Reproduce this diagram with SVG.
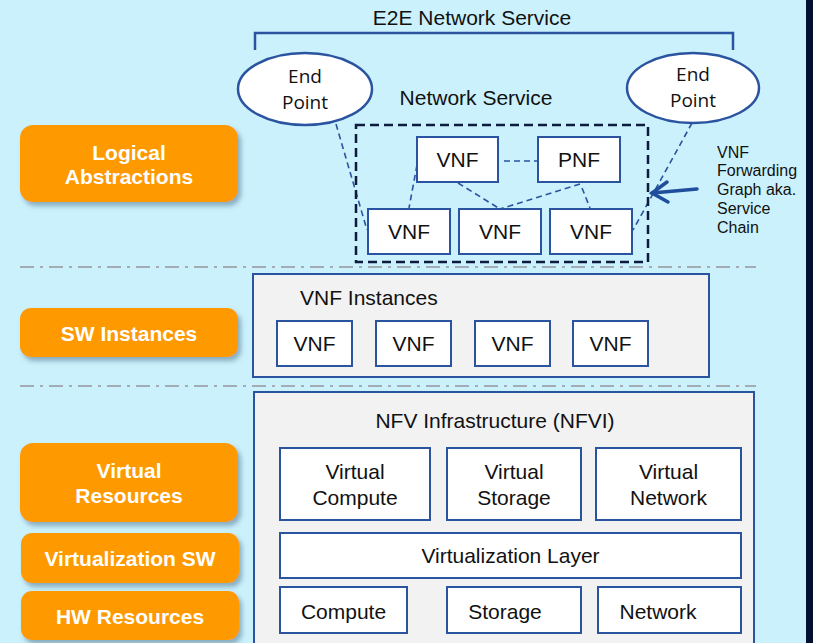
<svg xmlns="http://www.w3.org/2000/svg" width="813" height="643" viewBox="0 0 813 643">
<defs>
<style>
.bg{fill:#cbf1fc}
.lbl{fill:#ff9900}
.lt{font-family:"Liberation Sans",Arial,sans-serif;font-weight:bold;font-size:21px;fill:#fff;text-anchor:middle}
.box{fill:#fff;stroke:#2a54a0;stroke-width:2}
.panel{fill:#f2f2f2;stroke:#2a54a0;stroke-width:2}
.t{font-family:"Liberation Sans",Arial,sans-serif;font-size:21px;fill:#111;text-anchor:middle}
.tl{font-family:"Liberation Sans",Arial,sans-serif;font-size:21px;fill:#111}
.ep{font-family:"Open Sans","Noto Sans",sans-serif;font-size:19px;fill:#111;text-anchor:middle}
.sep{stroke:#a3acb5;stroke-width:2;stroke-dasharray:14 6 3 6;fill:none}
.dl{stroke:#2a54a0;stroke-width:1.6;stroke-dasharray:6 4;fill:none}
.small{font-family:"Liberation Sans",Arial,sans-serif;font-size:16px;fill:#111}
</style>
<filter id="sh" x="-10%" y="-10%" width="130%" height="140%">
<feDropShadow dx="3" dy="4" stdDeviation="2.5" flood-color="#5b7f95" flood-opacity="0.6"/>
</filter>
</defs>
<rect class="bg" x="0" y="0" width="813" height="643"/>
<rect x="806" y="0" width="7" height="643" fill="#021133"/>

<g id="separators">
<line class="sep" x1="20" y1="267" x2="756" y2="267"/>
<line class="sep" x1="20" y1="386" x2="756" y2="386"/>
</g>

<g id="label-logical"><rect class="lbl" filter="url(#sh)" x="20" y="125" width="218" height="77" rx="13"/><text class="lt" x="129" y="160">Logical</text><text class="lt" x="129" y="184">Abstractions</text></g>
<g id="label-sw"><rect class="lbl" filter="url(#sh)" x="20" y="308" width="218" height="49" rx="11"/><text class="lt" x="129" y="341">SW Instances</text></g>
<g id="label-vr"><rect class="lbl" filter="url(#sh)" x="20" y="443" width="218" height="79" rx="13"/><text class="lt" x="129" y="478">Virtual</text><text class="lt" x="129" y="503">Resources</text></g>
<g id="label-vsw"><rect class="lbl" filter="url(#sh)" x="21" y="533" width="218" height="50" rx="11"/><text class="lt" x="130" y="566">Virtualization SW</text></g>
<g id="label-hw"><rect class="lbl" filter="url(#sh)" x="21" y="591" width="218" height="49" rx="11"/><text class="lt" x="130" y="624">HW Resources</text></g>

<g id="e2e">
<path d="M255,50 V33 H733 V50" fill="none" stroke="#2a54a0" stroke-width="2.5"/>
<text class="tl" x="472" y="25" text-anchor="middle">E2E Network Service</text>
</g>

<g id="connectors">
<line class="dl" x1="336" y1="124" x2="367" y2="230"/>
<line class="dl" x1="692" y1="123" x2="633" y2="230"/>
<line class="dl" x1="504" y1="161" x2="538" y2="161"/>
<line class="dl" x1="417" y1="165" x2="409" y2="208"/>
<line class="dl" x1="458" y1="183" x2="500" y2="209"/>
<line class="dl" x1="580" y1="184" x2="500" y2="209"/>
<line class="dl" x1="582" y1="188" x2="590" y2="208"/>
<g stroke="#1f4e9c" stroke-width="3.5" fill="none" stroke-linecap="round">
<line x1="697" y1="189" x2="652" y2="193"/>
<polyline points="667,182 652,193 668,202"/>
</g>
</g>

<g id="ep-left"><ellipse cx="305" cy="89" rx="67" ry="36" fill="#fff" stroke="#2a54a0" stroke-width="2.5"/><text class="ep" x="305" y="83">End</text><text class="ep" x="305" y="109">Point</text></g>
<g id="ep-right"><ellipse cx="693" cy="88" rx="66" ry="35" fill="#fff" stroke="#2a54a0" stroke-width="2.5"/><text class="ep" x="693" y="81">End</text><text class="ep" x="693" y="107">Point</text></g>

<g id="network-service">
<text class="tl" x="476" y="105" text-anchor="middle">Network Service</text>
<rect x="356" y="125" width="292" height="137" fill="none" stroke="#0d1b3e" stroke-width="2.5" stroke-dasharray="9 5"/>
</g>
<g id="ns-vnf-top"><rect class="box" x="417" y="137" width="81" height="45"/><text class="t" x="457.5" y="167">VNF</text></g>
<g id="ns-pnf"><rect class="box" x="538" y="137" width="82" height="45"/><text class="t" x="579" y="167">PNF</text></g>
<g id="ns-vnf-1"><rect class="box" x="368" y="209" width="82" height="45"/><text class="t" x="409" y="239">VNF</text></g>
<g id="ns-vnf-2"><rect class="box" x="459" y="209" width="82" height="45"/><text class="t" x="500" y="239">VNF</text></g>
<g id="ns-vnf-3"><rect class="box" x="550" y="209" width="82" height="45"/><text class="t" x="591" y="239">VNF</text></g>

<g id="fg-note">
<text class="small" x="717" y="158">VNF</text>
<text class="small" x="717" y="176">Forwarding</text>
<text class="small" x="717" y="195">Graph aka.</text>
<text class="small" x="717" y="214">Service</text>
<text class="small" x="717" y="233">Chain</text>
</g>

<g id="vnf-instances">
<rect class="panel" x="253" y="274" width="456" height="103"/>
<text class="tl" x="300" y="305">VNF Instances</text>
</g>
<g id="vi-1"><rect class="box" x="277" y="321" width="75" height="45"/><text class="t" x="314.5" y="351">VNF</text></g>
<g id="vi-2"><rect class="box" x="376" y="321" width="75" height="45"/><text class="t" x="413.5" y="351">VNF</text></g>
<g id="vi-3"><rect class="box" x="475" y="321" width="75" height="45"/><text class="t" x="512.5" y="351">VNF</text></g>
<g id="vi-4"><rect class="box" x="573" y="321" width="75" height="45"/><text class="t" x="610.5" y="351">VNF</text></g>

<g id="nfvi">
<rect class="panel" x="254" y="392" width="500" height="260"/>
<text class="tl" x="495" y="428" text-anchor="middle">NFV Infrastructure (NFVI)</text>
</g>
<g id="v-compute"><rect class="box" x="280" y="448" width="150" height="72"/><text class="t" x="355" y="479">Virtual</text><text class="t" x="355" y="505">Compute</text></g>
<g id="v-storage"><rect class="box" x="447" y="448" width="134" height="72"/><text class="t" x="514" y="479">Virtual</text><text class="t" x="514" y="505">Storage</text></g>
<g id="v-network"><rect class="box" x="596" y="448" width="145" height="72"/><text class="t" x="668.5" y="479">Virtual</text><text class="t" x="668.5" y="505">Network</text></g>
<g id="virt-layer"><rect class="box" x="280" y="533" width="461" height="45"/><text class="t" x="510.5" y="563">Virtualization Layer</text></g>
<g id="hw-compute"><rect class="box" x="280" y="587" width="127" height="46"/><text class="t" x="343.5" y="619">Compute</text></g>
<g id="hw-storage"><rect class="box" x="447" y="587" width="134" height="46"/><text class="t" x="505" y="619">Storage</text></g>
<g id="hw-network"><rect class="box" x="598" y="587" width="143" height="46"/><text class="t" x="658" y="619">Network</text></g>
</svg>
